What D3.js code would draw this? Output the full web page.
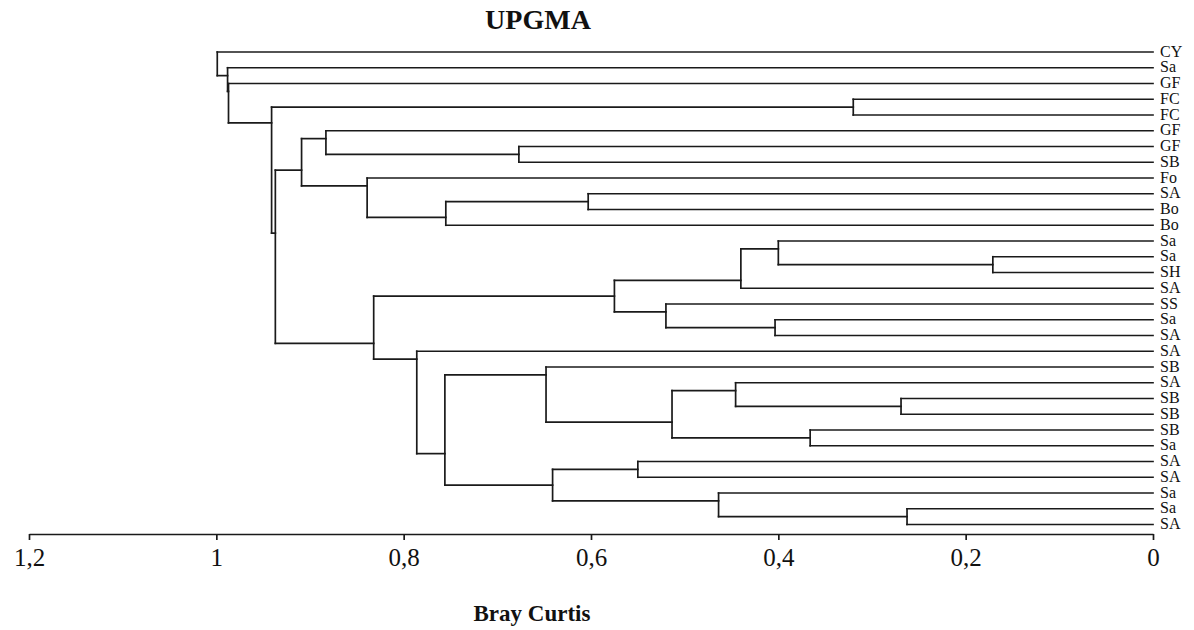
<!DOCTYPE html>
<html>
<head>
<meta charset="utf-8">
<script src="https://d3js.org/d3.v7.min.js"></script>
<style>
	body { margin: 0; background: #fff; }
	svg { display: block; font-family: "Liberation Serif", "DejaVu Serif", serif; }
</style>
</head>
<body>
<div id="chart"></div>
<script>
"use strict";

// feuilles, de haut en bas
var labels = ["CY", "Sa", "GF", "FC", "FC", "GF", "GF", "SB", "Fo", "SA", "Bo", "Bo",
	"Sa", "Sa", "SH", "SA", "SS", "Sa", "SA", "SA", "SB", "SA", "SB", "SB", "SB", "Sa",
	"SA", "SA", "Sa", "Sa", "SA"];

// fusions (indices : 0-30 feuilles, 31+ noeuds dans l'ordre de la liste), enfant du haut d'abord
var merges = [
	[3, 4], [6, 7], [5, 32], [9, 10], [34, 11], [8, 35], [33, 36],
	[13, 14], [12, 38], [39, 15], [17, 18], [16, 41], [40, 42],
	[22, 23], [21, 44], [24, 25], [45, 46], [20, 47],
	[26, 27], [29, 30], [28, 50], [49, 51], [48, 52], [19, 53], [43, 54],
	[37, 55], [31, 56], [2, 57], [1, 58], [0, 59]
];
// distance Bray Curtis de chaque fusion
var heights = [
	0.320, 0.677, 0.883, 0.603, 0.755, 0.839, 0.909,
	0.171, 0.400, 0.440, 0.4035, 0.520, 0.575,
	0.269, 0.4456, 0.366, 0.5135, 0.648,
	0.550, 0.2626, 0.4638, 0.641, 0.756, 0.786, 0.832,
	0.937, 0.941, 0.987, 0.988, 0.999
];
var ticks = [1.2, 1, 0.8, 0.6, 0.4, 0.2, 0];

var width = 1194, height = 630;

var svg = d3.select("#chart").append("svg")
	.attr("width", width)
	.attr("height", height);

// construire l'arbre à partir des fusions
var nodes = labels.map((l, i) => ({ name: l, index: i, h: 0 }));
merges.forEach((m, i) => {
	nodes.push({ children: [nodes[m[0]], nodes[m[1]]], h: heights[i] });
});
var root = d3.hierarchy(nodes[nodes.length - 1]);

var x = d3.scaleLinear().domain([1.2, 0]).range([29, 1153]);
var y = d3.scaleLinear().domain([0, labels.length - 1]).range([52, 524.5]);

// y d'un noeud : entre la dernière feuille du haut et la première du bas
root.eachAfter(n => {
	if (!n.children) { n.py = y(n.data.index); n.first = n.last = n.py; return; }
	var a = n.children[0], b = n.children[1];
	n.first = a.first;
	n.last = b.last;
	n.py = (a.last + b.first) / 2;
});

var g = svg.append("g")
	.attr("fill", "none")
	.attr("stroke", "#1a1a1a")
	.attr("stroke-width", 1.7)
	.attr("stroke-linecap", "square");

root.descendants().filter(n => n.children).forEach(n => {
	var xn = x(n.data.h);
	g.append("line")
		.attr("x1", xn).attr("x2", xn)
		.attr("y1", n.children[0].py).attr("y2", n.children[1].py);
	n.children.forEach(c => {
		g.append("line")
			.attr("x1", xn).attr("x2", x(c.data.h))
			.attr("y1", c.py).attr("y2", c.py);
	});
});

// étiquettes des feuilles
svg.append("g").selectAll("text")
	.data(root.leaves())
	.join("text")
		.attr("x", x(0) + 7)
		.attr("y", d => d.py + 4.5)
		.attr("font-size", 16)
		.attr("fill", "#111")
		.text(d => d.data.name);

// axe
var axis = d3.axisBottom(x)
	.tickValues(ticks)
	.tickSize(6)
	.tickSizeOuter(0)
	.tickFormat(d => String(d).replace(".", ","));
var ga = svg.append("g")
	.attr("transform", "translate(0,534)")
	.call(axis);
ga.select(".domain").attr("stroke", "#1a1a1a").attr("stroke-width", 1.7);
ga.selectAll(".tick line").attr("stroke", "#1a1a1a").attr("stroke-width", 1.7);
ga.selectAll(".tick text")
	.attr("font-family", "Liberation Serif, serif")
	.attr("font-size", 25)
	.attr("fill", "#111")
	.attr("dy", "0.9em");

svg.append("text")
	.attr("x", 538)
	.attr("y", 29)
	.attr("text-anchor", "middle")
	.attr("font-size", 28)
	.attr("font-weight", "bold")
	.attr("fill", "#111")
	.text("UPGMA");

svg.append("text")
	.attr("x", 532)
	.attr("y", 621)
	.attr("text-anchor", "middle")
	.attr("font-size", 23)
	.attr("font-weight", "bold")
	.attr("fill", "#111")
	.text("Bray Curtis");
</script>
</body>
</html>
